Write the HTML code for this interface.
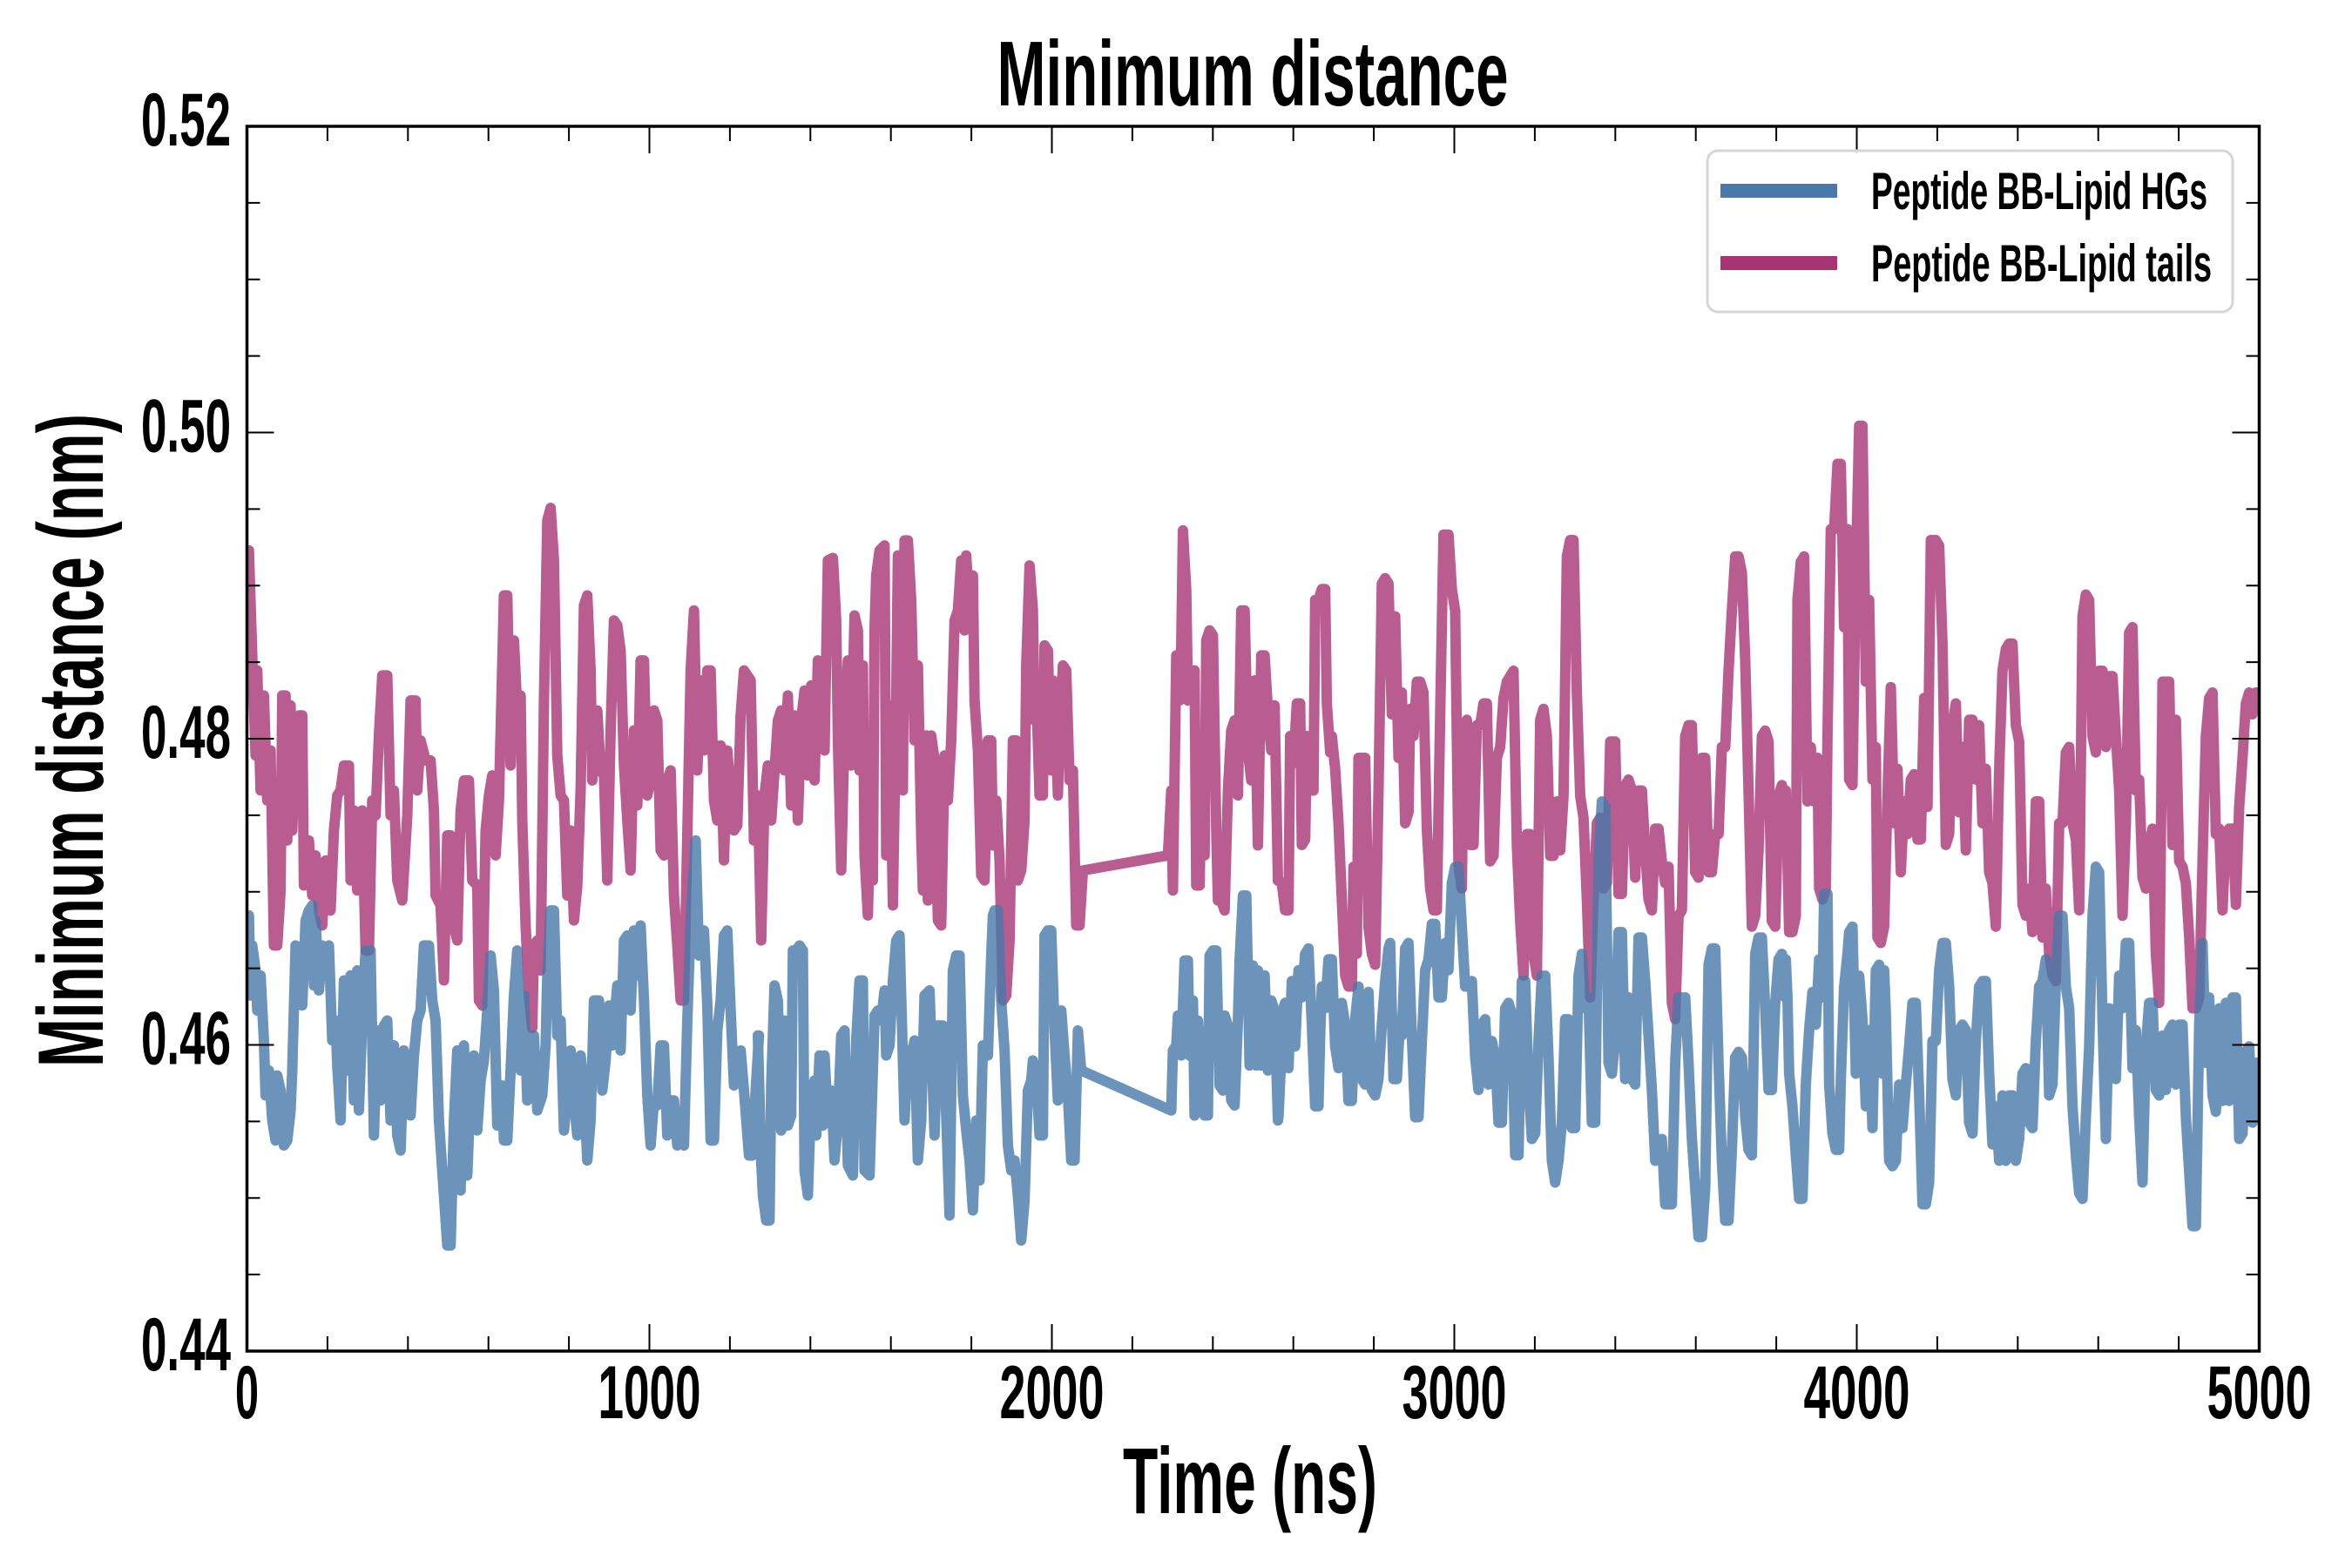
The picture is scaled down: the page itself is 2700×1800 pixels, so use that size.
<!DOCTYPE html>
<html>
<head>
<meta charset="utf-8">
<style>
html,body{margin:0;padding:0;background:#fff;}
svg{display:block;}
text{font-family:"Liberation Sans Narrow","Liberation Sans",sans-serif;font-weight:bold;fill:#000;}
.pl{fill:none;stroke-linejoin:round;stroke-linecap:round;}
</style>
</head>
<body>
<svg width="2700" height="1800" viewBox="0 0 2700 1800" xmlns="http://www.w3.org/2000/svg">
<defs>
<clipPath id="pc"><rect x="283.5" y="145" width="2310" height="1406"/></clipPath>
</defs>
<rect x="0" y="0" width="2700" height="1800" fill="#fff"/>

<g clip-path="url(#pc)">
<!-- pink series -->
<g opacity="0.8" stroke="#a83474">
<g transform="translate(280,540) scale(0.38270,0.57405)">
<polyline class="pl" vector-effect="non-scaling-stroke" stroke-width="12" points="9,160 15,160 25,370 35,570 40,400 50,640 60,450 70,660 80,560 90,950 100,950 110,840 115,450 125,450 130,740 140,470 145,720 155,540 165,490 175,490 180,830 195,740 205,850 215,770 225,880 235,910 245,780 255,790 260,880 270,720 280,650 290,640 300,590 315,590 320,820 330,680 340,840 345,690 355,680 365,960 375,960 385,660 395,690 405,530 415,410 430,410 440,690 450,640 460,820 475,860 490,690 500,460 515,460 520,640 530,540 545,580 560,580 570,680 575,850 590,870 600,1020 610,730 620,730 625,900 640,940 650,680 660,620 675,620 685,820 700,830 705,1060 715,1070 725,720 735,650 745,610 755,770 765,660 780,250 790,250 800,590 810,340 820,480 830,450 835,700 845,910 855,1050 865,1115 870,950 880,940 890,1000 900,460 910,100 920,75 930,180 940,570 950,650 960,660 970,850 980,720 990,900 1000,830 1010,640 1020,270 1030,250 1040,400 1045,620 1060,480 1070,600 1080,610 1090,820 1100,520 1110,300 1120,310 1130,360 1140,590 1150,700 1160,800 1170,520 1180,670 1190,380 1200,380 1210,650 1220,620 1230,480 1240,500 1250,760 1260,770 1270,620 1280,600 1290,850 1300,950 1310,1060 1320,1060 1340,400 1350,280 1360,600 1370,420 1380,560 1390,400 1400,400 1410,660 1420,700 1430,550 1440,780 1450,560 1460,650 1470,720 1480,710 1490,490 1500,400 1520,420 1530,740"/>
</g>
<g transform="translate(870,540) scale(0.38270,0.57405)">
<polyline class="pl" vector-effect="non-scaling-stroke" stroke-width="12" points="-12,740 0,650 10,940 20,650 30,590 40,700 50,600 60,500 70,480 80,600 90,450 100,670 110,490 120,700 130,500 140,440 150,610 160,430 170,620 180,380 190,540 200,560 210,180 225,175 235,300 240,540 250,800 260,520 270,380 280,590 290,290 300,320 305,600 315,390 320,770 330,890 340,600 345,820 350,320 355,210 365,160 380,150 385,770 395,470 405,870 415,460 420,170 430,170 435,640 440,140 450,140 460,260 470,540 480,390 490,730 495,840 505,530 510,860 520,530 530,580 540,900 550,910 560,570 570,660 580,540 590,300 600,280 610,180 620,320 625,170 635,290 645,210 650,460 660,560 670,810 680,820 690,540 700,540 705,750 715,660 725,780 735,1060 745,1050 755,940 765,540 775,540 780,820 790,800 800,700 805,390 815,190 825,280 830,500 835,440 845,650 855,650 860,350 870,360 880,600 885,420 890,460 900,650 905,530 915,390 925,400 935,620 945,600 955,910 965,910 975,800 1230,770 1240,640 1245,840 1255,370 1265,460 1270,350 1275,120 1285,240 1290,460 1300,420 1310,400 1315,830 1325,830 1330,640 1340,770 1345,340 1355,320 1365,330 1375,720 1380,860 1390,860 1400,880 1410,640 1420,520 1430,500 1440,650 1450,280 1460,280 1470,560 1480,620 1490,420 1500,750 1510,370 1520,370 1530,480 1540,560 1550,470 1560,820"/>
</g>
<g transform="translate(1460,470) scale(0.38270,0.625)">
<polyline class="pl" vector-effect="non-scaling-stroke" stroke-width="12" points="18,865 30,870 40,920 50,920 55,600 65,650 75,540 85,540 90,800 100,790 105,600 115,700 125,700 130,350 140,350 150,330 160,330 165,540 175,630 180,600 190,660 200,760 210,900 220,1040 230,1060 240,1060 245,840 255,1000 260,640 270,640 280,640 290,950 300,1000 310,1020 320,700 330,320 340,310 350,320 360,560 370,380 380,640 390,520 400,760 410,740 415,550 425,600 435,500 445,500 455,520 465,770 475,880 485,920 495,920 505,560 515,230 530,230 540,330 550,370 560,840 570,880 575,600 585,570 595,800 605,800 615,580 625,580 635,540 645,540 655,830 665,820 675,640 685,620 695,530 705,500 715,490 725,480 735,800 745,940 755,1040 765,780 775,780 785,1000 795,1040 805,570 815,550 825,600 835,820 845,820 855,720 865,810 875,710 885,270 895,240 905,240 915,520 925,710 935,750 945,900 955,1080 965,900 975,760 985,750 995,880 1005,870 1015,610 1030,610 1040,890 1050,890 1060,690 1070,680 1080,700 1090,860 1100,700 1110,700 1120,810 1130,900 1140,920 1150,770 1160,770 1170,830 1180,870 1190,840 1200,1090 1210,1120 1220,930 1230,920 1240,600 1250,580 1260,580 1270,850 1280,860 1290,640 1300,640 1310,850 1320,850 1330,780 1340,780 1350,620 1360,620 1370,480 1380,370 1390,270 1400,270 1410,300 1420,460 1430,700 1440,950 1450,930 1460,810 1470,600 1480,590 1490,610 1500,940 1510,950 1520,710 1530,690 1540,740"/>
</g>
<g transform="translate(2050,470) scale(0.38270,0.625)">
<polyline class="pl" vector-effect="non-scaling-stroke" stroke-width="12" points="0,700 10,960 20,960 30,930 35,350 45,280 55,270 65,720 75,620 85,720 95,640 100,880 110,900 120,880 125,600 135,220 145,220 155,100 165,100 175,400 185,220 190,680 200,690 210,300 220,30 230,30 240,500 250,350 260,680 270,620 275,970 285,980 295,950 305,710 315,510 325,760 335,660 345,850 355,720 365,780 375,680 385,670 395,790 405,790 415,530 425,730 435,240 450,240 460,250 470,430 480,800 490,780 500,580 510,540 520,740 530,620 540,810 550,570 560,570 570,680 580,580 590,760 600,660 610,850 620,870 630,950 640,660 650,480 660,440 670,430 680,430 690,580 700,610 710,910 720,930 730,880 740,960 750,720 760,720 770,970 780,880 790,1000 800,1040 810,1050 820,760 830,760 840,630 850,620 860,760 870,790 880,920 890,380 900,340 910,350 920,600 930,630 940,480 950,480 960,620 970,490 980,490 990,600 1000,700 1010,930 1020,760 1030,410 1040,400 1050,700 1060,680 1070,860 1080,880 1090,800 1100,770 1110,1000 1120,1090 1130,500 1140,500 1150,500 1160,800 1170,570 1180,830 1190,840 1200,870 1210,970 1220,1100 1230,1100 1240,1080 1250,830 1260,600 1270,530 1280,520 1290,780 1300,770 1310,920 1320,780 1330,770 1340,770 1350,910 1360,730 1370,640 1380,540 1390,520 1400,560 1410,520 1425,520"/>
</g>
</g>

<!-- blue series -->
<g opacity="0.8" stroke="#4878a8">
<g transform="translate(280,540) scale(0.38270,0.57405)">
<polyline class="pl" vector-effect="non-scaling-stroke" stroke-width="12" points="9,890 15,890 20,1050 25,950 35,1000 40,1080 50,1010 60,1140 65,1250 75,1200 85,1300 95,1340 100,1210 110,1240 120,1350 130,1340 140,1280 145,1200 155,950 165,960 175,1070 185,900 195,880 205,870 210,1030 215,900 225,1040 235,950 245,1000 255,950 265,1140 275,1100 280,1190 290,1300 300,1020 310,1200 320,1010 330,1260 340,1000 345,1280 355,1100 365,960 380,960 390,1330 400,1120 410,1260 420,1110 430,1100 440,1300 450,1150 460,1330 470,1360 480,1160 490,1200 500,1290 510,1170 520,1100 530,1080 540,950 555,950 565,1060 575,1100 585,1300 600,1450 610,1550 620,1550 630,1300 640,1160 650,1440 660,1150 670,1410 680,1240 690,1170 700,1320 710,1220 720,1180 730,1080 740,970 750,1040 760,1310 775,1230 780,1340 790,1340 800,1200 810,1050 820,960 830,1200 840,1050 850,1260 860,1220 870,1130 880,1280 895,1250 905,1150 910,1010 920,880 930,880 940,1130 950,1100 960,1320 970,1250 980,1160 990,1260 1000,1330 1010,1170 1020,1240 1030,1380 1040,1300 1050,1060 1065,1060 1075,1240 1085,1180 1095,1070 1105,1150 1115,1070 1120,1030 1130,1160 1140,940 1150,930 1160,1080 1170,920 1180,1010 1190,910 1200,1060 1210,1250 1220,1350 1230,1260 1240,1270 1250,1150 1260,1150 1270,1330 1280,1260 1290,1260 1300,1350 1310,1340 1320,1350 1330,1100 1340,900 1355,740 1365,970 1380,920 1390,1070 1400,1340 1410,1340 1420,1120 1430,1060 1440,930 1450,920 1460,1080 1470,1230 1480,1170 1490,1160 1500,1240 1515,1370 1525,1370 1535,1240 1545,1130"/>
</g>
<g transform="translate(870,540) scale(0.38270,0.57405)">
<polyline class="pl" vector-effect="non-scaling-stroke" stroke-width="12" points="0,1130 10,1380 15,1450 25,1500 35,1500 40,1230 50,1030 60,1060 70,1320 80,1100 90,1310 100,1290 105,960 115,960 125,950 135,960 140,1400 150,1450 160,1250 170,1220 175,1330 185,1170 195,1310 200,1170 210,1300 220,1240 230,1380 240,1300 250,1130 260,1120 270,1390 285,1410 295,1140 305,1020 315,1020 320,1400 335,1410 345,1200 350,1090 360,1080 370,1100 380,1040 385,1170 395,1150 405,1020 415,940 425,930 440,1300 450,1160 460,1170 470,1140 480,1380 490,1300 500,1050 515,1040 530,1330 540,1110 555,1110 565,1290 575,1490 585,1000 595,970 605,970 615,1250 625,1320 635,1380 645,1480 655,1300 665,1420 675,1150 690,1170 700,970 705,890 710,880 720,880 730,1060 740,1160 750,1350 760,1400 770,1380 780,1450 790,1540 800,1460 810,1240 820,1220 825,1180 835,1210 845,1330 855,1330 860,930 870,920 880,920 890,1120 900,1260 910,1080 920,1170 930,1250 940,1380 950,1380 960,1120 970,1200 1240,1280 1245,1160 1255,1150 1260,1090 1270,1170 1280,980 1290,980 1295,1170 1305,1060 1310,1290 1320,1100 1330,1200 1340,1290 1350,1290 1355,970 1365,960 1375,960 1385,1230 1395,1240 1400,1090 1410,1110 1420,1260 1430,1270 1440,1100 1445,980 1455,850 1465,850 1475,1190 1485,990 1495,1190 1500,1000 1510,1190 1520,1010 1530,1200 1540,1060 1550,1080 1560,1300"/>
</g>
<g transform="translate(1460,470) scale(0.38270,0.625)">
<polyline class="pl" vector-effect="non-scaling-stroke" stroke-width="12" points="20,1300 35,1100 40,1090 50,1210 60,1050 70,1170 80,1030 90,1080 100,1000 110,990 120,1130 130,1280 140,1280 145,1150 150,1060 160,1100 170,1010 180,1010 190,1170 200,1210 210,1090 220,1130 230,1270 240,1270 250,1120 260,1060 270,1230 280,1240 290,1070 300,1250 310,1260 320,1230 330,1130 340,1050 350,990 355,980 365,1230 375,1230 385,1120 390,1150 400,990 410,980 420,1150 430,1300 440,1300 450,1160 460,1030 470,1010 480,945 490,945 500,1080 510,1080 520,980 530,1030 540,870 550,840 560,840 570,950 580,1060 590,1060 600,1050 610,1190 620,1250 630,1130 640,1120 650,1240 660,1160 670,1190 680,1310 690,1310 700,1100 710,1090 720,1110 730,1370 740,1370 750,1050 760,1050 770,1240 780,1340 790,1330 800,1160 810,1040 820,1040 830,1190 840,1380 850,1420 860,1380 870,1310 880,1120 890,1120 900,1320 910,1320 920,1040 930,1000 940,1100 950,1080 960,1310 970,1310 980,830 990,720 1000,730 1010,1200 1020,1220 1030,1160 1040,960 1050,960 1060,1230 1070,1080 1080,1230 1090,1240 1100,970 1110,970 1120,1050 1130,1150 1140,1250 1150,1380 1160,1360 1170,1340 1180,1460 1190,1460 1200,1460 1210,1200 1220,1080 1230,1080 1240,1080 1250,1200 1260,1340 1270,1430 1280,1520 1290,1520 1300,1430 1310,1020 1320,990 1330,990 1340,1200 1350,1380 1360,1490 1370,1490 1380,1360 1390,1190 1400,1180 1410,1190 1420,1300 1430,1360 1440,1370 1450,1000 1460,970 1470,970 1480,1100 1490,1250 1500,1250 1510,1090 1520,1010 1530,1000 1540,1080"/>
</g>
<g transform="translate(2050,470) scale(0.38270,0.625)">
<polyline class="pl" vector-effect="non-scaling-stroke" stroke-width="12" points="0,1010 5,1080 10,1220 20,1280 30,1370 40,1450 50,1450 60,1240 70,1140 80,1070 90,1130 100,1010 110,1080 115,890 125,890 130,1240 140,1330 150,1360 160,1360 165,1230 175,1060 185,1000 190,960 200,950 210,1220 220,1040 230,1120 240,1280 250,1140 260,1320 270,1030 280,1020 290,1220 295,1030 300,1110 310,1380 320,1390 330,1380 340,1240 350,1320 360,1240 370,1170 380,1090 390,1090 400,1260 410,1460 420,1460 430,1420 440,1160 450,1160 460,1030 470,980 480,980 490,1060 500,1230 510,1260 520,1140 530,1130 540,1140 550,1310 560,1330 570,1160 580,1060 590,1050 600,1050 610,1220 620,1350 630,1280 640,1380 650,1260 660,1380 670,1260 680,1260 690,1380 700,1340 710,1220 720,1210 730,1310 740,1320 750,1160 760,1060 770,1050 780,1010 790,1260 800,1240 810,1050 820,930 830,930 840,1060 850,1100 860,1280 870,1370 880,1440 890,1450 900,1300 910,1170 920,930 930,840 940,850 950,1120 960,1340 970,1100 980,1150 990,1230 1000,1040 1010,1100 1020,980 1030,980 1040,1210 1050,1140 1060,1300 1070,1420 1080,1170 1090,1090 1100,1090 1110,1250 1120,1260 1130,1150 1140,1250 1150,1140 1160,1130 1170,1240 1180,1130 1190,1130 1200,1300 1210,1400 1220,1500 1230,1500 1240,1130 1250,980 1260,1200 1270,1080 1280,1260 1290,1290 1300,1100 1310,1270 1320,1090 1330,1270 1340,1080 1350,1080 1360,1340 1370,1330 1380,1180 1390,1170 1400,1310 1410,1200 1425,1200"/>
</g>
</g>
</g>

<!-- ticks -->
<g stroke="#000" stroke-width="2" fill="none">
<path d="M375.9,1551v-17M468.3,1551v-17M560.7,1551v-17M653.1,1551v-17M837.9,1551v-17M930.3,1551v-17M1022.7,1551v-17M1115.1,1551v-17M1299.9,1551v-17M1392.3,1551v-17M1484.7,1551v-17M1577.1,1551v-17M1761.9,1551v-17M1854.3,1551v-17M1946.7,1551v-17M2039.1,1551v-17M2223.9,1551v-17M2316.3,1551v-17M2408.7,1551v-17M2501.1,1551v-17"/>
<path d="M375.9,145v17M468.3,145v17M560.7,145v17M653.1,145v17M837.9,145v17M930.3,145v17M1022.7,145v17M1115.1,145v17M1299.9,145v17M1392.3,145v17M1484.7,145v17M1577.1,145v17M1761.9,145v17M1854.3,145v17M1946.7,145v17M2039.1,145v17M2223.9,145v17M2316.3,145v17M2408.7,145v17M2501.1,145v17"/>
<path d="M745.5,1551v-31M1207.5,1551v-31M1669.5,1551v-31M2131.5,1551v-31M745.5,145v31M1207.5,145v31M1669.5,145v31M2131.5,145v31"/>
<path d="M283.5,1463.1h15M283.5,1375.25h15M283.5,1287.4h15M283.5,1111.6h15M283.5,1023.75h15M283.5,935.9h15M283.5,760.1h15M283.5,672.25h15M283.5,584.4h15M283.5,408.6h15M283.5,320.75h15M283.5,232.9h15"/>
<path d="M2593.5,1463.1h-15M2593.5,1375.25h-15M2593.5,1287.4h-15M2593.5,1111.6h-15M2593.5,1023.75h-15M2593.5,935.9h-15M2593.5,760.1h-15M2593.5,672.25h-15M2593.5,584.4h-15M2593.5,408.6h-15M2593.5,320.75h-15M2593.5,232.9h-15"/>
<path d="M283.5,1199.5h31M283.5,848h31M283.5,496.5h31M2593.5,1199.5h-31M2593.5,848h-31M2593.5,496.5h-31"/>
</g>

<!-- frame -->
<rect x="283.5" y="145" width="2310" height="1406" fill="none" stroke="#000" stroke-width="3.5"/>

<!-- legend -->
<rect x="1960" y="173" width="603" height="185" rx="12" ry="12" fill="#fff" fill-opacity="0.85" stroke="#d6d6d6" stroke-width="3"/>
<line x1="1975" y1="219" x2="2109" y2="219" stroke="#4a78aa" stroke-width="16"/>
<line x1="1975" y1="302" x2="2109" y2="302" stroke="#a83474" stroke-width="16"/>
<text x="2148" y="240" font-size="60" textLength="386" lengthAdjust="spacingAndGlyphs">Peptide BB-Lipid HGs</text>
<text x="2148" y="323" font-size="60" textLength="391" lengthAdjust="spacingAndGlyphs">Peptide BB-Lipid tails</text>

<!-- y tick labels -->
<g font-size="86" text-anchor="end">
<text x="265" y="1573" textLength="103" lengthAdjust="spacingAndGlyphs">0.44</text>
<text x="265" y="1221.5" textLength="103" lengthAdjust="spacingAndGlyphs">0.46</text>
<text x="265" y="870" textLength="103" lengthAdjust="spacingAndGlyphs">0.48</text>
<text x="265" y="518.5" textLength="103" lengthAdjust="spacingAndGlyphs">0.50</text>
<text x="265" y="167" textLength="103" lengthAdjust="spacingAndGlyphs">0.52</text>
</g>

<!-- x tick labels -->
<g font-size="86" text-anchor="middle">
<text x="283.5" y="1628" textLength="27" lengthAdjust="spacingAndGlyphs">0</text>
<text x="745.5" y="1628" textLength="118" lengthAdjust="spacingAndGlyphs">1000</text>
<text x="1207.5" y="1628" textLength="120" lengthAdjust="spacingAndGlyphs">2000</text>
<text x="1669.5" y="1628" textLength="120" lengthAdjust="spacingAndGlyphs">3000</text>
<text x="2131.5" y="1628" textLength="122" lengthAdjust="spacingAndGlyphs">4000</text>
<text x="2593.5" y="1628" textLength="120" lengthAdjust="spacingAndGlyphs">5000</text>
</g>

<!-- title and axis labels -->
<text x="1438" y="121" font-size="106" text-anchor="middle" textLength="587" lengthAdjust="spacingAndGlyphs">Minimum distance</text>
<text x="1435" y="1737" font-size="108" text-anchor="middle" textLength="292" lengthAdjust="spacingAndGlyphs">Time (ns)</text>
<text transform="translate(118,850) rotate(-90)" x="0" y="0" font-size="107" text-anchor="middle" textLength="750" lengthAdjust="spacingAndGlyphs">Minimum distance (nm)</text>
</svg>
</body>
</html>
